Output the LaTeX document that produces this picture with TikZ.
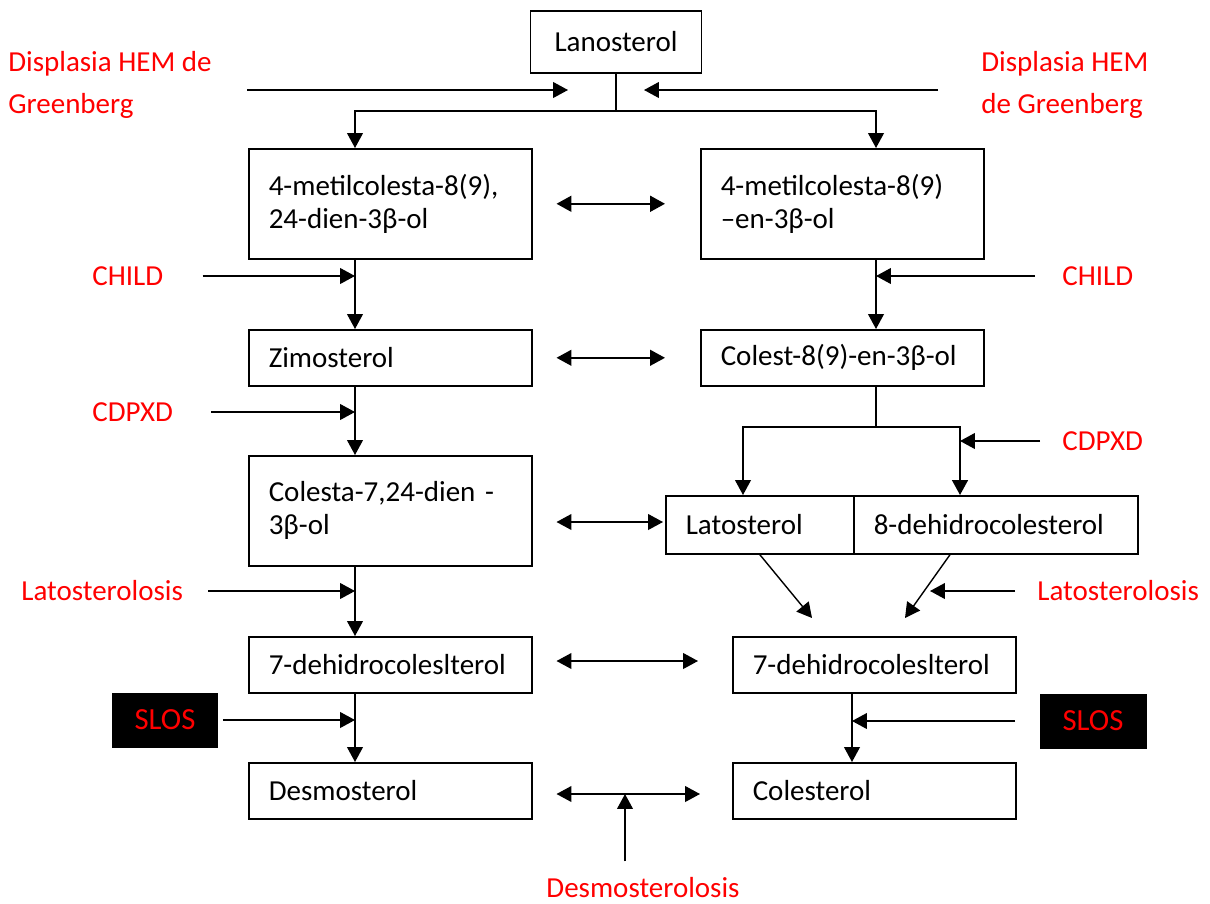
\documentclass[tikz,border=0pt]{standalone}
\usepackage{fontspec}
\setmainfont{Carlito}
\usetikzlibrary{arrows.meta,positioning,calc}

\begin{document}
\begin{tikzpicture}[x=0.02cm,y=-0.02cm]
      \tikzset{>={Triangle[length=8.5pt,width=9pt]}} % filled arrow head
      \colorlet{mylabel}{red}

      \def\tw{4.86cm} % text width of a wide box
      \def\hh{2.2cm}  % tall box
      \def\hs{1.12cm} % short box

      \tikzset{
        box/.style={draw,line width=.9pt,anchor=north west,inner xsep=0.4cm,inner ysep=0pt,
          align=left,font=\fontsize{16.5}{18.7}\selectfont},
        lbl/.style={anchor=west,inner sep=0,align=left,text=mylabel,
          font=\fontsize{16.5}{23.8}\selectfont},
        blk/.style={fill=black,text=mylabel,minimum width=2.14cm,minimum height=1.1cm,
          inner sep=0,font=\fontsize{17.5}{18.7}\selectfont},
        link/.style={line width=.8pt}
      }

      \useasboundingbox (0,0) rectangle (1210,903);

      % COLUMNS
      \coordinate (lc) at (355,0);
      \coordinate (rc) at (876,0);
      \coordinate (rc2) at (852,0);
      \coordinate (lx) at (743,0);
      \coordinate (dx) at (960,0);

      % TOP
      \node[draw,line width=.9pt,minimum width=3.42cm,minimum height=1.24cm,
        font=\fontsize{16.5}{18.7}\selectfont] (lano) at (616,42) {Lanosterol};

      % LEFT COLUMN
      \node[box,text width=\tw,minimum height=\hh] (metA) at (248,148) {4-metilcolesta-8(9),\\24-dien-3β-ol};
      \node[box,text width=\tw,minimum height=\hs] (zimo) at (248,329) {Zimosterol};
      \node[box,text width=\tw,minimum height=\hh] (colA) at (248,455) {Colesta-7,24-dien -\\3β-ol};
      \node[box,text width=\tw,minimum height=\hs] (dhA) at (248,636) {7-dehidrocoleslterol};
      \node[box,text width=\tw,minimum height=\hs] (desA) at (248,762) {Desmosterol};

      % RIGHT COLUMN
      \node[box,text width=\tw,minimum height=\hh] (metB) at (700,148) {4-metilcolesta-8(9)\\–en-3β-ol};
      \node[box,text width=\tw,minimum height=\hs] (colR) at (700,329) {Colest-8(9)-en-3β-ol};
      \node[box,text width=2.96cm,minimum height=1.16cm] (lato) at (665,495) {Latosterol};
      \node[box,text width=4.88cm,minimum height=1.16cm] (dhc) at (853,495) {8-dehidrocolesterol};
      \node[box,text width=\tw,minimum height=\hs] (dhB) at (732,636) {7-dehidrocoleslterol};
      \node[box,text width=\tw,minimum height=\hs] (chol) at (732,762) {Colesterol};

      % DISEASES
      \node[lbl] (dispL) at (8,85) {Displasia HEM de\\Greenberg};
      \node[lbl] (dispR) at (981,85) {Displasia HEM\\de Greenberg};
      \node[lbl] (childL) at (92,276) {CHILD};
      \node[lbl] (childR) at (1062,276) {CHILD};
      \node[lbl] (cdpxdL) at (92,412) {CDPXD};
      \node[lbl] (cdpxdR) at (1062,441) {CDPXD};
      \node[lbl] (latoL) at (21,591) {Latosterolosis};
      \node[lbl] (latoR) at (1037,591) {Latosterolosis};
      \node[blk] (slosL) at (165,720) {SLOS};
      \node[blk] (slosR) at (1093,721) {SLOS};
      \node[lbl,anchor=center] (desmo) at (643,888) {Desmosterolosis};

      % LANOSTEROL FORK
      \coordinate (fork) at (616,111);
      \coordinate (inL) at (568,90);
      \coordinate (inR) at (644,90);
      \draw[link] (lano.south) -- (fork);
      \draw[link,->] (fork) -| (metA.north -| lc);
      \draw[link,->] (fork) -| (metB.north -| rc);
      \draw[link,->] (inL -| 247,0) -- (inL);
      \draw[link,->] (inR -| 938,0) -- (inR);

      % LEFT PATH
      \draw[link,->] (metA.south -| lc) -- (zimo.north -| lc);
      \draw[link,->] (zimo.south -| lc) -- (colA.north -| lc);
      \draw[link,->] (colA.south -| lc) -- (dhA.north -| lc);
      \draw[link,->] (dhA.south -| lc) -- (desA.north -| lc);

      % RIGHT PATH
      \draw[link,->] (metB.south -| rc) -- (colR.north -| rc);
      \coordinate (fork2) at (876,427);
      \draw[link] (colR.south -| rc) -- (fork2);
      \draw[link,->] (fork2) -| (lato.north -| lx);
      \draw[link,->,line width=1.1pt] (fork2) -| (dhc.north -| dx);
      \coordinate (tipA) at (812,618);
      \coordinate (tipB) at (905,618);
      \draw[link,->] (lato.south) -- (tipA);
      \draw[link,->] ($(dhc.south west)!.34!(dhc.south east)$) -- (tipB);
      \draw[link,->] (dhB.south -| rc2) -- (chol.north -| rc2);

      % BLOCKS
      \draw[link,->] ([xshift=0.78cm]childL.east) -- (childL.east -| lc);
      \draw[link,->] ([xshift=0.76cm]cdpxdL.east) -- (cdpxdL.east -| lc);
      \draw[link,->] ([xshift=0.5cm]latoL.east) -- (latoL.east -| lc);
      \draw[link,->] ([xshift=0.08cm]slosL.east) -- (slosL.east -| lc);
      \draw[link,->] ([xshift=-0.54cm]childR.west) -- (childR.west -| rc);
      \draw[link,->] ([xshift=-0.44cm]cdpxdR.west) -- (cdpxdR.west -| dx);
      \draw[link,->] ([xshift=-0.44cm]latoR.west) -- ++(-85,0);
      \draw[link,->] ([xshift=-0.48cm]slosR.west) -- (slosR.west -| rc2);

      % EQUILIBRIA
      \draw[link,<->,line width=1.3pt,shorten <=0.48cm,shorten >=0.7cm] (metA.east) -- (metB.west);
      \draw[link,<->,line width=1pt,shorten <=0.48cm,shorten >=0.7cm] (zimo.east) -- (colR.west);
      \draw[link,<->,shorten <=0.48cm,shorten >=0.04cm] (colA.east |- 0,522) -- (lato.west |- 0,522);
      \draw[link,<->,shorten <=0.48cm,shorten >=0.68cm] (dhA.east |- 0,661) -- (dhB.west |- 0,661);
      \coordinate (dj) at (625,794);
      \draw[link,<->,shorten <=0.48cm,shorten >=0.64cm] (desA.east |- dj) -- (chol.west |- dj);
      \draw[link,->] ([yshift=0.32cm]desmo.north -| dj) -- (dj);

\end{tikzpicture}
\end{document}
